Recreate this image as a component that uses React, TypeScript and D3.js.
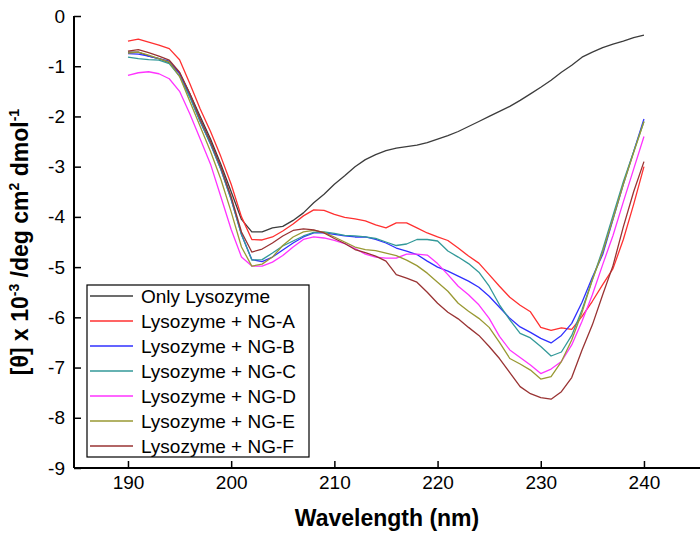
import React, { useEffect, useRef } from "react";
import * as d3 from "d3";

const wavelengths = d3.range(190, 241, 1);

const onlyLysozyme = [-0.72,-0.72,-0.80,-0.85,-0.93,-1.13,-1.55,-2.00,-2.45,-2.95,-3.50,-4.05,-4.30,-4.30,-4.22,-4.19,-4.07,-3.92,-3.72,-3.55,-3.35,-3.18,-3.00,-2.86,-2.76,-2.68,-2.63,-2.60,-2.57,-2.52,-2.45,-2.38,-2.30,-2.20,-2.10,-2.00,-1.90,-1.80,-1.68,-1.55,-1.42,-1.28,-1.12,-0.98,-0.82,-0.72,-0.63,-0.56,-0.50,-0.43,-0.38];
const ngA = [-0.50,-0.46,-0.52,-0.58,-0.65,-0.87,-1.35,-1.85,-2.30,-2.80,-3.35,-4.00,-4.45,-4.46,-4.40,-4.28,-4.14,-3.98,-3.86,-3.87,-3.95,-4.01,-4.04,-4.08,-4.16,-4.22,-4.12,-4.12,-4.22,-4.32,-4.40,-4.47,-4.62,-4.78,-4.92,-5.15,-5.38,-5.60,-5.76,-5.89,-6.20,-6.26,-6.21,-6.24,-5.98,-5.68,-5.35,-5.03,-4.45,-3.75,-3.00];
const ngB = [-0.75,-0.76,-0.80,-0.85,-0.90,-1.15,-1.60,-2.10,-2.55,-3.05,-3.65,-4.35,-4.85,-4.89,-4.80,-4.66,-4.52,-4.40,-4.32,-4.32,-4.35,-4.38,-4.40,-4.40,-4.45,-4.52,-4.62,-4.68,-4.75,-4.88,-5.00,-5.08,-5.18,-5.28,-5.40,-5.58,-5.80,-6.02,-6.19,-6.30,-6.42,-6.51,-6.36,-6.12,-5.70,-5.20,-4.75,-4.05,-3.35,-2.70,-2.05];
const ngC = [-0.82,-0.85,-0.87,-0.88,-0.95,-1.20,-1.62,-2.10,-2.55,-3.05,-3.65,-4.35,-4.86,-4.85,-4.72,-4.58,-4.48,-4.38,-4.31,-4.30,-4.33,-4.37,-4.38,-4.40,-4.43,-4.50,-4.57,-4.54,-4.45,-4.45,-4.48,-4.68,-4.80,-4.93,-5.10,-5.38,-5.75,-6.05,-6.32,-6.41,-6.58,-6.77,-6.69,-6.36,-5.85,-5.25,-4.65,-3.97,-3.30,-2.70,-2.10];
const ngD = [-1.18,-1.13,-1.11,-1.15,-1.25,-1.50,-1.95,-2.45,-2.95,-3.60,-4.25,-4.80,-4.98,-4.98,-4.90,-4.77,-4.60,-4.45,-4.40,-4.42,-4.47,-4.53,-4.63,-4.74,-4.80,-4.82,-4.82,-4.74,-4.74,-4.76,-4.93,-5.15,-5.38,-5.55,-5.75,-6.02,-6.38,-6.65,-6.80,-6.95,-7.12,-7.03,-6.88,-6.55,-6.08,-5.55,-4.95,-4.37,-3.70,-3.05,-2.40];
const ngE = [-0.74,-0.72,-0.78,-0.85,-0.92,-1.20,-1.70,-2.20,-2.70,-3.25,-3.90,-4.60,-4.98,-4.94,-4.80,-4.57,-4.40,-4.30,-4.27,-4.31,-4.40,-4.50,-4.60,-4.65,-4.67,-4.72,-4.77,-4.86,-4.97,-5.12,-5.30,-5.48,-5.72,-5.88,-6.02,-6.20,-6.50,-6.82,-6.93,-7.05,-7.23,-7.18,-6.88,-6.45,-5.90,-5.25,-4.70,-4.04,-3.35,-2.72,-2.10];
const ngF = [-0.70,-0.67,-0.73,-0.80,-0.88,-1.12,-1.55,-2.05,-2.50,-3.00,-3.60,-4.30,-4.70,-4.64,-4.52,-4.38,-4.27,-4.24,-4.26,-4.32,-4.43,-4.53,-4.65,-4.71,-4.78,-4.88,-5.15,-5.22,-5.30,-5.50,-5.72,-5.90,-6.03,-6.20,-6.36,-6.58,-6.82,-7.10,-7.38,-7.52,-7.60,-7.63,-7.48,-7.20,-6.65,-6.15,-5.55,-4.97,-4.20,-3.50,-2.90];

const seriesNames = ["Only Lysozyme", "Lysozyme + NG-A", "Lysozyme + NG-B", "Lysozyme + NG-C", "Lysozyme + NG-D", "Lysozyme + NG-E", "Lysozyme + NG-F"];
const seriesValues = [onlyLysozyme, ngA, ngB, ngC, ngD, ngE, ngF];
const seriesColors = ["#3c3c3c", "#ff3030", "#3030ff", "#339999", "#ff33ff", "#999933", "#993333"];

const xTicks = [190, 200, 210, 220, 230, 240];
const yTicks = [0, -1, -2, -3, -4, -5, -6, -7, -8, -9];

const FONT = "'Liberation Sans', Arial, sans-serif";

export default function App() {
  const ref = useRef<SVGSVGElement>(null);

  useEffect(() => {
    const svg = d3.select(ref.current);
    svg.selectAll("*").remove();

    const left = 74, right = 700, top = 16, bottom = 468;
    const x = d3.scaleLinear().domain([184.77, 245.43]).range([left, right]);
    const y = d3.scaleLinear().domain([0, -9]).range([top, bottom]);

    const line = d3.line<number>()
      .x((_, i) => x(wavelengths[i]))
      .y((d) => y(d));

    seriesValues.forEach((vals, si) => {
      svg.append("path")
        .attr("d", line(vals) as string)
        .attr("fill", "none")
        .attr("stroke", seriesColors[si])
        .attr("stroke-width", 1.3)
        .attr("stroke-linejoin", "round");
    });

    const fmt = (d: any) => String(d);

    const ax = svg.append("g").attr("transform", `translate(0,${bottom})`);
    ax.call(d3.axisBottom(x).tickValues(xTicks).tickSize(-7).tickPadding(16).tickFormat(fmt) as any);
    ax.select(".domain").attr("stroke", "#000").attr("stroke-width", 2).attr("d", `M${left},0H${right}`);
    ax.selectAll(".tick line").attr("stroke", "#000").attr("stroke-width", 1.5);
    ax.selectAll(".tick text").attr("font-family", FONT).attr("font-size", 19).attr("fill", "#000").attr("dy", "0.35em").attr("y", 14);

    const ay = svg.append("g").attr("transform", `translate(${left},0)`);
    ay.call(d3.axisLeft(y).tickValues(yTicks).tickSize(-7).tickPadding(9).tickFormat(fmt) as any);
    ay.select(".domain").attr("stroke", "#000").attr("stroke-width", 2).attr("d", `M0,${top}V${bottom}`);
    ay.selectAll(".tick line").attr("stroke", "#000").attr("stroke-width", 1.5);
    ay.selectAll(".tick text").attr("font-family", FONT).attr("font-size", 19).attr("fill", "#000");

    svg.append("text")
      .attr("x", (left + right) / 2)
      .attr("y", 526)
      .attr("text-anchor", "middle")
      .attr("font-family", FONT)
      .attr("font-weight", "bold")
      .attr("font-size", 23)
      .text("Wavelength (nm)");

    const yt = svg.append("text")
      .attr("transform", `translate(28,${(top + bottom) / 2}) rotate(-90)`)
      .attr("text-anchor", "middle")
      .attr("font-family", FONT)
      .attr("font-weight", "bold")
      .attr("font-size", 23);
    yt.append("tspan").text("[θ] x 10");
    yt.append("tspan").attr("font-size", 14).attr("dy", -9).text("-3");
    yt.append("tspan").attr("dy", 9).text(" /deg cm");
    yt.append("tspan").attr("font-size", 14).attr("dy", -9).text("2");
    yt.append("tspan").attr("dy", 9).text(" dmol");
    yt.append("tspan").attr("font-size", 14).attr("dy", -9).text("-1");

    const lg = svg.append("g");
    lg.append("rect").attr("x", 87).attr("y", 285).attr("width", 222).attr("height", 172)
      .attr("fill", "#fff").attr("stroke", "#000").attr("stroke-width", 1.2);
    seriesNames.forEach((name, i) => {
      const cy = 296 + i * 25;
      lg.append("line").attr("x1", 90).attr("x2", 133).attr("y1", cy).attr("y2", cy)
        .attr("stroke", seriesColors[i]).attr("stroke-width", 1.3);
      lg.append("text").attr("x", 141).attr("y", cy).attr("dy", "0.35em")
        .attr("font-family", FONT).attr("font-size", 19).attr("fill", "#000").text(name);
    });
  }, []);

  return (
    <svg ref={ref} width={700} height={535} style={{ display: "block", position: "absolute", left: 0, top: 0, background: "#fff" }} />
  );
}
